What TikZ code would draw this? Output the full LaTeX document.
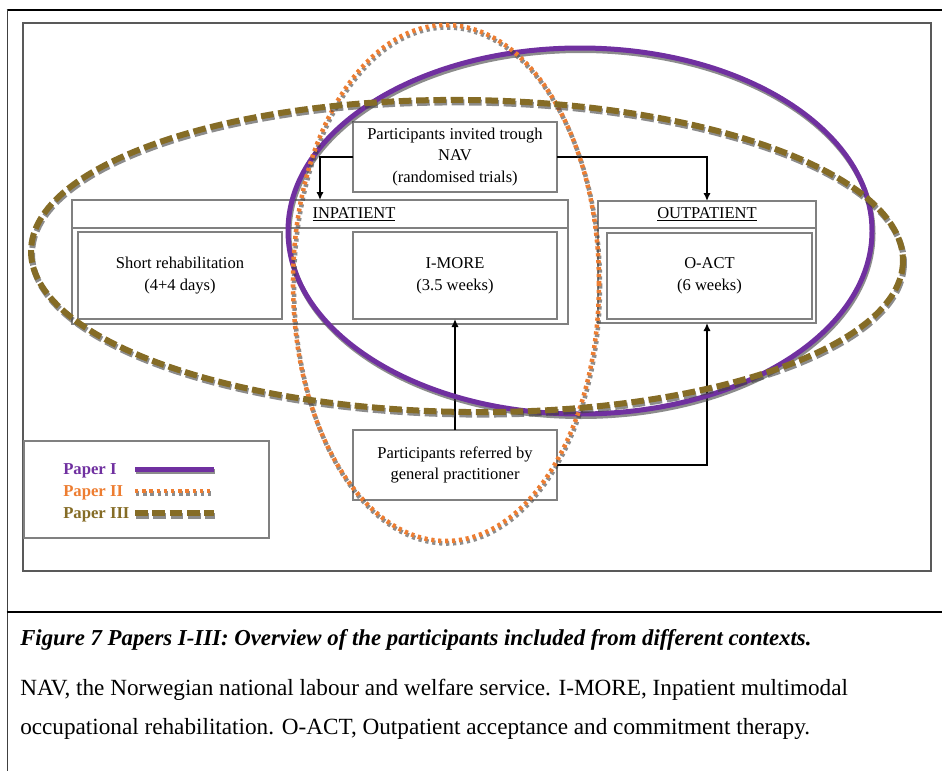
\documentclass[tikz,border=0pt]{standalone}
\usepackage{fontspec}
\setmainfont{Liberation Serif}
\usetikzlibrary{arrows.meta}
\definecolor{pI}{RGB}{112,48,160}
\definecolor{pII}{RGB}{237,125,49}
\definecolor{pIII}{RGB}{133,108,38}
\definecolor{boxgray}{RGB}{128,128,128}
\newcommand{\pxl}[1]{#1*0.75pt}

\begin{document}
\begin{tikzpicture}[x=0.75pt,y=-0.75pt,
  box/.style={draw=boxgray, line width=0.8pt, fill=white, inner sep=0pt, outer sep=0pt,
              align=center, font=\fontsize{12.4}{16.2}\selectfont},
  head/.style={font=\fontsize{12.4}{16.2}\selectfont, inner sep=0pt},
  conn/.style={draw=black, line width=1.5pt, -{Latex[length=6pt,width=5.5pt]}},
  shade/.style={draw=black!75, opacity=0.6},
  ringI/.style={draw=pI, line width=3.75pt},
  ringII/.style={draw=pII, line width=3.4pt, dash pattern=on 2.4pt off 2.8pt},
  ringIII/.style={draw=pIII, line width=4.5pt, dash pattern=on 9.5pt off 3.5pt},
  legtext/.style={font=\fontsize{12.5}{15}\selectfont\bfseries, anchor=base west, inner sep=0pt},
  captext/.style={font=\fontsize{17.4}{20}\selectfont, anchor=base west, inner sep=0pt}
]
\useasboundingbox (0,0) rectangle (942,771);

% page rules and the figure frame
\draw[black, line width=2.2pt] (6.5,10) -- (942,10);
\draw[black!75, line width=1pt] (7.5,9) -- (7.5,771);
\draw[black, line width=2.2pt] (6.5,612) -- (942,612);
\draw[black!65, line width=1.1pt] (23,23) rectangle (931,571);

% inpatient block
\node[box, minimum width=\pxl{496}, minimum height=\pxl{124}] (inp) at (320,262) {};
\draw[boxgray, line width=0.8pt] (72,228) -- (568,228);
\node[head] (inphead) at (354,214) {\underline{INPATIENT}};
\node[box, minimum width=\pxl{204}, minimum height=\pxl{87}] (short) at (180,275.5)
  {Short rehabilitation\\(4+4 days)};
\node[box, minimum width=\pxl{204}, minimum height=\pxl{87}] (imore) at (455,275.5)
  {I-MORE\\(3.5 weeks)};

% outpatient block
\node[box, minimum width=\pxl{218}, minimum height=\pxl{122}] (out) at (707,262) {};
\draw[boxgray, line width=0.8pt] (598,228) -- (816,228);
\node[head] (outhead) at (707,214) {\underline{OUTPATIENT}};
\node[box, minimum width=\pxl{205}, minimum height=\pxl{86}] (oact) at (709.5,276)
  {O-ACT\\(6 weeks)};

% recruitment routes
\node[box, minimum width=\pxl{204}, minimum height=\pxl{70}] (nav) at (455,157)
  {Participants invited trough\\NAV\\(randomised trials)};
\node[box, minimum width=\pxl{204}, minimum height=\pxl{70}] (gp) at (455,465)
  {Participants referred by\\general practitioner};

\coordinate (inpdrop) at (320,200);
\draw[conn] (nav.west) -| (inpdrop);
\draw[conn] (nav.east) -| (out.north);
\draw[conn] (gp.north) -- (imore.south);
\draw[conn] (gp.east) -| (out.south);

% paper I (solid purple ring)
\begin{scope}[shift={(580,231)}]
  \draw[ringI, shade] (1,2.5) ellipse [x radius=292, y radius=183];
  \draw[ringI] (0,0) ellipse [x radius=292, y radius=183];
\end{scope}
% paper II (dotted orange ring)
\begin{scope}[shift={(446,283)}]
  \draw[ringII, shade] (1,2.5) ellipse [x radius=153, y radius=258];
  \draw[ringII] (0,0) ellipse [x radius=153, y radius=258];
\end{scope}
% paper III (dashed olive ring)
\begin{scope}[shift={(467,256)}, rotate=-0.7]
  \draw[ringIII, shade] (1,2.5) ellipse [x radius=436, y radius=156];
  \draw[ringIII] (0,0) ellipse [x radius=436, y radius=156];
\end{scope}

% legend
\node[draw=boxgray, line width=0.8pt, fill=white, minimum width=\pxl{245}, minimum height=\pxl{97},
      inner sep=0pt] (legend) at (146.5,489.5) {};
\node[legtext, text=pI] (lI) at (63,474) {Paper I};
\node[legtext, text=pII] (lII) at (63,496) {Paper II};
\node[legtext, text=pIII] (lIII) at (63,518) {Paper III};
\draw[ringI, shade] (136,471.5) -- (215,471.5);
\draw[ringI] (135,469) -- (214,469);
\draw[ringII, shade, dash pattern=on 2.6pt off 2.8pt] (136,493.5) -- (215,493.5);
\draw[ringII, dash pattern=on 2.6pt off 2.8pt] (135,491) -- (214,491);
\draw[ringIII, shade] (136,515.5) -- (215,515.5);
\draw[ringIII] (135,513) -- (214,513);

% caption
\node[captext, font=\fontsize{17.1}{20}\selectfont\bfseries\itshape] (cap) at (20,645)
  {Figure 7 Papers I-III: Overview of the participants included from different contexts.};
\node[captext] (note1) at (20,695)
  {NAV, the Norwegian national labour and welfare service. I-MORE, Inpatient multimodal};
\node[captext] (note2) at (20,734)
  {occupational rehabilitation. O-ACT, Outpatient acceptance and commitment therapy.};
\end{tikzpicture}
\end{document}
